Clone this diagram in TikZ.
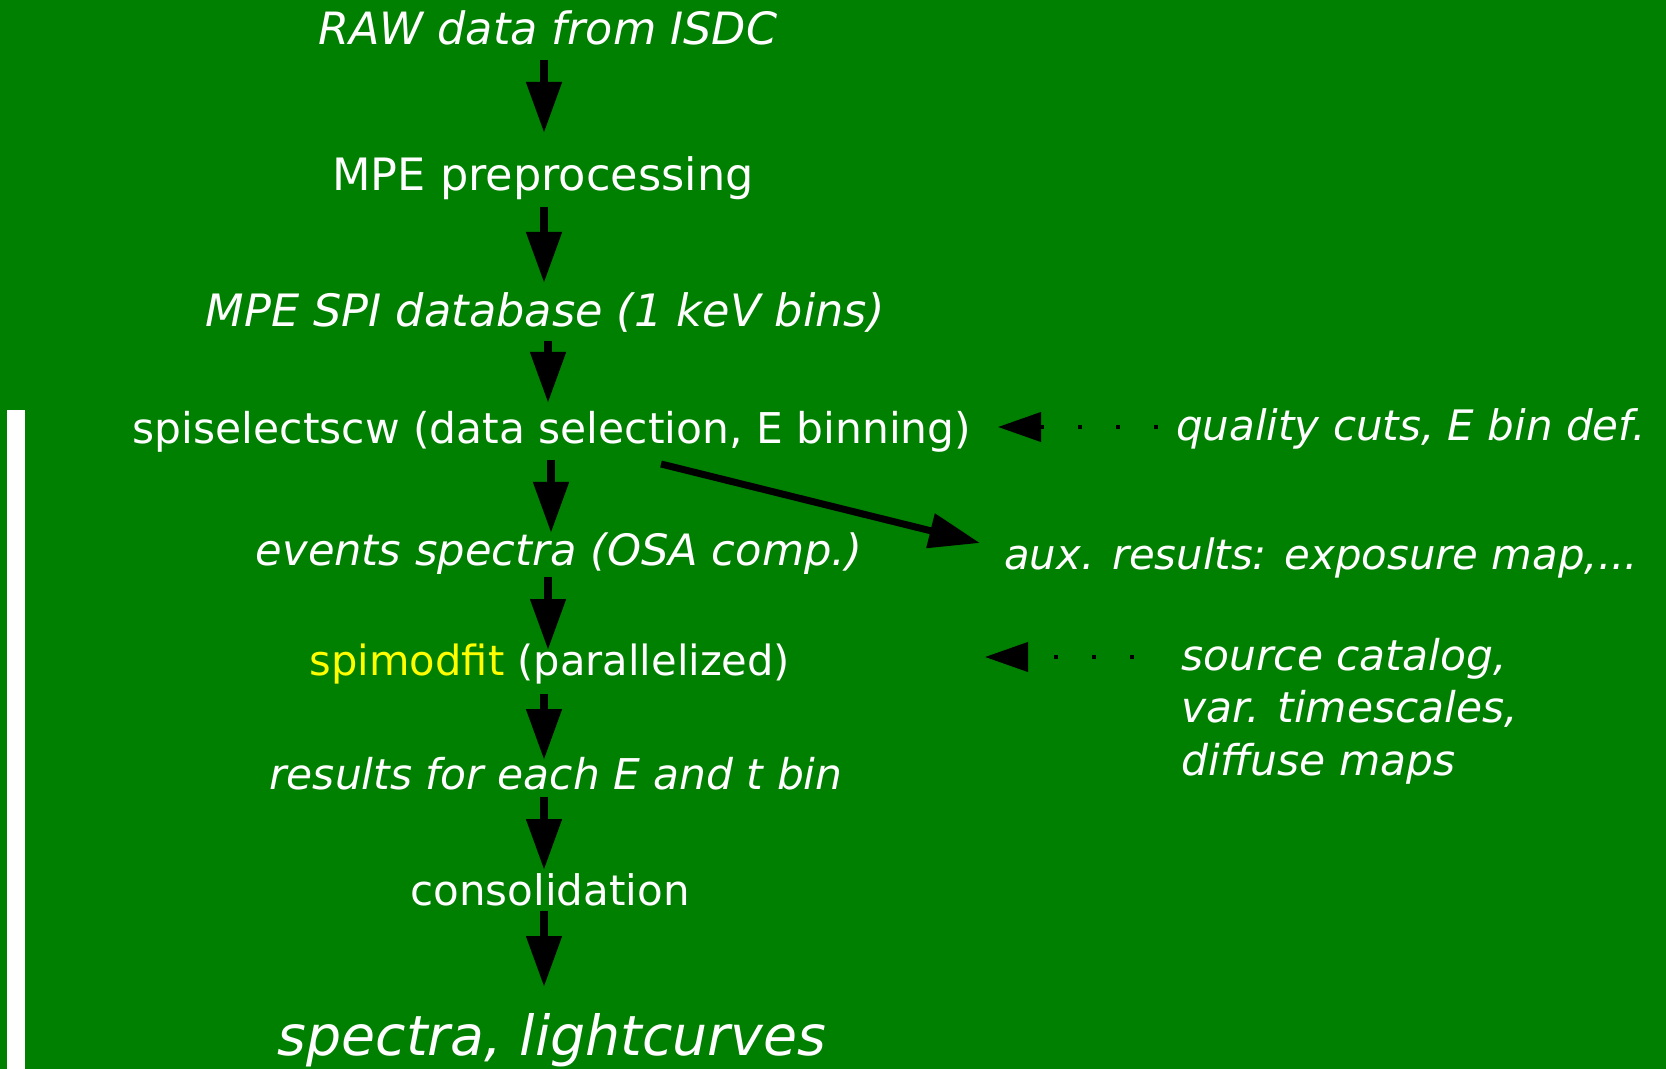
\documentclass[tikz,border=0pt]{standalone}
\usepackage{fontspec}
\setmainfont{DejaVu Sans}
\usetikzlibrary{arrows.meta}
\definecolor{bggreen}{HTML}{008000}
\definecolor{hlyellow}{HTML}{FFFF00}
\begin{document}
\begin{tikzpicture}[x=0.5pt,y=-0.5pt,
  txt/.style={text=white,inner sep=0pt,anchor=base,font=\fontsize{#1}{26.25pt}\selectfont},
  itxt/.style={text=white,inner sep=0pt,anchor=base,font=\fontsize{#1}{26.25pt}\selectfont\itshape},
  flow/.style={line width=4pt,-{Triangle[width=17pt,length=25.5pt]}},
  diag/.style={line width=3.5pt,-{Triangle[width=17pt,length=25.5pt]}},
  dotarrow/.style={line width=2pt,dash pattern=on 2pt off 17pt,-{Triangle[width=14.5pt,length=21.5pt]}}]
\fill[bggreen] (0,0) rectangle (1666,1069);
\useasboundingbox (0,0) rectangle (1666,1069);
\fill[white] (7,410) rectangle (25,1069);

\node[itxt=22.25pt] (raw) at (548,45) {RAW data from ISDC};
\node[txt=22.3pt] (pre) at (543,191) {MPE preprocessing};
\node[itxt=22.3pt] (db) at (545,327) {MPE SPI database (1 keV bins)};
\node[txt=21.2pt] (sel) at (552,444) {spiselectscw (data selection, E binning)};
\node[itxt=21pt] (qual) at (1411,441) {quality cuts, E bin def.};
\node[itxt=21.6pt] (ev) at (559,566) {events spectra (OSA comp.)};
\node[itxt=20.9pt] (aux) at (1321,569) {aux. results: exposure map,...};
\node[txt=20.8pt] (fit) at (550,675) {\textcolor{hlyellow}{spimodfit} (parallelized)};
\node[itxt=21.2pt,anchor=base west,align=left] (src) at (1181,775) {source catalog,\\var. timescales,\\diffuse maps};
\node[itxt=21.2pt] (res) at (556,789) {results for each E and t bin};
\node[txt=21pt] (cons) at (550,905) {consolidation};
\node[itxt=27.65pt] (out) at (552,1055) {spectra, lightcurves};

\coordinate (a1s) at (544,60);  \coordinate (a1e) at (544,133);
\coordinate (a2s) at (544,207); \coordinate (a2e) at (544,283);
\coordinate (a3s) at (548,341); \coordinate (a3e) at (548,403);
\coordinate (a4s) at (551,460); \coordinate (a4e) at (551,533);
\coordinate (a5s) at (548,577); \coordinate (a5e) at (548,650);
\coordinate (a6s) at (544,694); \coordinate (a6e) at (544,760);
\coordinate (a7s) at (544,797); \coordinate (a7e) at (544,870);
\coordinate (a8s) at (544,911); \coordinate (a8e) at (544,987);
\coordinate (ds) at (661,464);  \coordinate (de) at (980,543);
\coordinate (q1s) at (1158,427); \coordinate (q1e) at (998,427);
\coordinate (q2s) at (1134,657); \coordinate (q2e) at (985,657);

\draw[flow] (a1s) -- (a1e);
\draw[flow] (a2s) -- (a2e);
\draw[flow] (a3s) -- (a3e);
\draw[flow] (a4s) -- (a4e);
\draw[flow] (a5s) -- (a5e);
\draw[flow] (a6s) -- (a6e);
\draw[flow] (a7s) -- (a7e);
\draw[flow] (a8s) -- (a8e);
\draw[diag] (ds) -- (de);
\draw[dotarrow] (q1s) -- (q1e);
\draw[dotarrow] (q2s) -- (q2e);
\end{tikzpicture}
\end{document}
